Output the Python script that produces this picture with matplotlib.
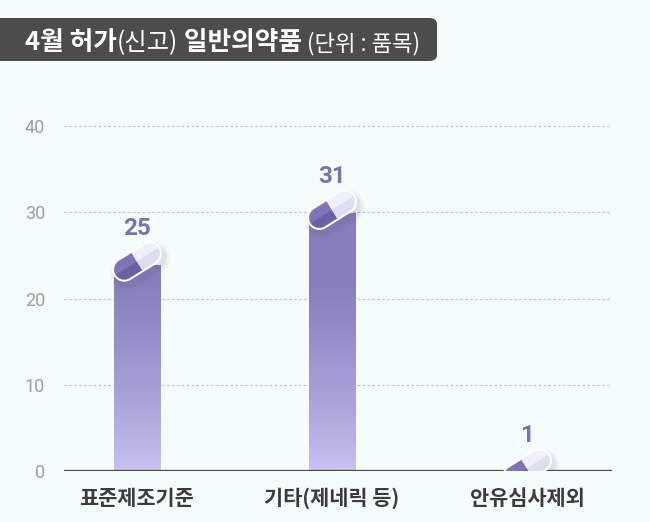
import numpy as np
import matplotlib
matplotlib.use("Agg")
import matplotlib.pyplot as plt
import matplotlib.transforms as mtransforms
from matplotlib.path import Path
from matplotlib.patches import PathPatch, FancyBboxPatch

# ---------- data ----------
categories = ["표준제조기준", "기타(제네릭 등)", "안유심사제외"]
values = [25, 31, 1]
yticks = [0, 10, 20, 30, 40]

title_parts = [
    ("4월 허가", "bold", 18.5),
    ("(신고)", "light", 17.5),
    (" 일반의약품", "bold", 18.5),
    (" (단위 : 품목)", "light", 16),
]

# ---------- style ----------
KR = ["Noto Sans CJK KR", "DejaVu Sans"]
NUM = ["Roboto", "DejaVu Sans"]
plt.rcParams["font.family"] = KR

BG = "#f5fdfc"
W, H, DPI = 650, 522, 100

BAR_DARK = np.array([0x87, 0x7e, 0xbd]) / 255
BAR_LIGHT = np.array([0xcb, 0xc5, 0xf3]) / 255

fig = plt.figure(figsize=(W / DPI, H / DPI), dpi=DPI, facecolor=BG)

# axes placed in pixel terms: y=0 at 471px, 8.62 px per unit
x_left, x_right = 64, 612
y_zero_px, px_per_unit = 471, 8.62
ymax = 50
y_top_px = y_zero_px - ymax * px_per_unit
ax = fig.add_axes([x_left / W, 1 - y_zero_px / H,
                   (x_right - x_left) / W, (y_zero_px - y_top_px) / H])
ax.set_facecolor(BG)

xs = np.arange(len(categories))
spacing = 195.0
first_px = 137.0
xlim = (-(first_px - x_left) / spacing,
        len(categories) - 1 + (x_right - (first_px + spacing * (len(categories) - 1))) / spacing)
ax.set_xlim(xlim)
ax.set_ylim(0, ymax)

for s in ax.spines.values():
    s.set_visible(False)

# grid + baseline
for t in yticks[1:]:
    ax.axhline(t, color="#b7c0c0", lw=0.8, ls=(0, (2.2, 2.2)), zorder=0)
ax.axhline(0, color="#4a4a4a", lw=1.6, zorder=4)

ax.set_yticks(yticks)
ax.set_yticklabels([str(t) for t in yticks], family=NUM, fontsize=13,
                   color="#9d9d9d")
ax.set_xticks(xs)
ax.set_xticklabels(categories, fontsize=15, weight="bold", color="#3b3b3b")
ax.tick_params(axis="y", length=0, pad=13.5)
ax.tick_params(axis="x", length=0, pad=12)


# ---------- pills ----------
def _arc(cx, r, a0, a1, n=40):
    a = np.radians(np.linspace(a0, a1, n))
    return np.c_[cx + r * np.cos(a), r * np.sin(a)]


def _poly(pts):
    pts = np.vstack([pts, pts[:1]])
    codes = [Path.MOVETO] + [Path.LINETO] * (len(pts) - 2) + [Path.CLOSEPOLY]
    return Path(pts, codes)


def _stadium(h, r):
    return _poly(np.vstack([_arc(h, r, -90, 90), _arc(-h, r, 90, 270)]))


def draw_pill(ax, cx, cy, angle=32, L=50, T=20):
    r = T / 2
    h = L / 2 - r
    base = mtransforms.Affine2D().rotate_deg(angle).translate(cx, cy)
    # soft shadow
    for k, a in [(7, 0.045), (5, 0.055), (3, 0.07)]:
        sh = mtransforms.Affine2D().rotate_deg(angle).translate(cx + 3, cy - 5)
        ax.add_patch(PathPatch(_stadium(h, r + k), transform=sh,
                               facecolor="#5a5a70", edgecolor="none", alpha=a, zorder=5))
    # white outline
    ax.add_patch(PathPatch(_stadium(h, r + 2.2), transform=base,
                           facecolor="white", edgecolor="none", zorder=6))
    o = np.array([[0.0, 0.0]])
    lt = np.vstack([o, [[0, r]], _arc(-h, r, 90, 180)])
    lb = np.vstack([o, _arc(-h, r, 180, 270), [[0, -r]]])
    rt = np.vstack([o, _arc(h, r, 0, 90), [[0, r]]])
    rb = np.vstack([o, [[0, -r]], _arc(h, r, -90, 0)])
    for pts, col in [(lt, "#7e74b6"), (lb, "#6b60a6"),
                     (rt, "#eef0fb"), (rb, "#dcdff1")]:
        ax.add_patch(PathPatch(_poly(pts), transform=base,
                               facecolor=col, edgecolor=col, lw=0.3, zorder=7))


# ---------- gradient bars topped with a capsule ----------
bar_w = 47 / spacing
for x, v in zip(xs, values):
    px, py = ax.transData.transform((x, v))
    pill_y = py - 6

    ys = np.linspace(v, 0, 200)
    t = np.clip(ys / 22.0, 0, 1) ** 0.75
    rgb = BAR_LIGHT[None, :] * (1 - t[:, None]) + BAR_DARK[None, :] * t[:, None]
    im = ax.imshow(rgb[:, None, :], extent=(x - bar_w / 2, x + bar_w / 2, 0, v),
                   aspect="auto", origin="upper", zorder=2, interpolation="bilinear")
    # the capsule sits on the bar, so the bar stops just under its centre
    x0d, y0d = ax.transData.transform((x - bar_w / 2, 0))
    x1d, _ = ax.transData.transform((x + bar_w / 2, 0))
    im.set_clip_box(mtransforms.Bbox.from_extents(x0d - 1, y0d, x1d + 1, pill_y - 3))

    draw_pill(ax, px, pill_y)
    ax.annotate(str(v), xy=(x, v), xytext=(0, 27), textcoords="offset pixels",
                ha="center", va="center", fontsize=17.5, weight="bold",
                family=NUM, color="#7a72b4", zorder=8, annotation_clip=False)

ax.set_xlim(xlim)
ax.set_ylim(0, ymax)

# ---------- title box ----------
box = FancyBboxPatch((-20 / W, 1 - 61 / H), (437 + 20) / W, 43 / H,
                     boxstyle="round,pad=0,rounding_size=0.012",
                     transform=fig.transFigure, facecolor="#4c4c4c",
                     edgecolor="none", zorder=5)
fig.add_artist(box)

renderer = fig.canvas.get_renderer()
cur_x = 25
for txt, wt, fs in title_parts:
    t = fig.text(cur_x / W, 1 - 50 / H, txt, color="white", fontsize=fs,
                 weight=wt, ha="left", va="baseline", zorder=6)
    bb = t.get_window_extent(renderer)
    cur_x += bb.width

fig.savefig("out.png", dpi=DPI, facecolor=BG)
